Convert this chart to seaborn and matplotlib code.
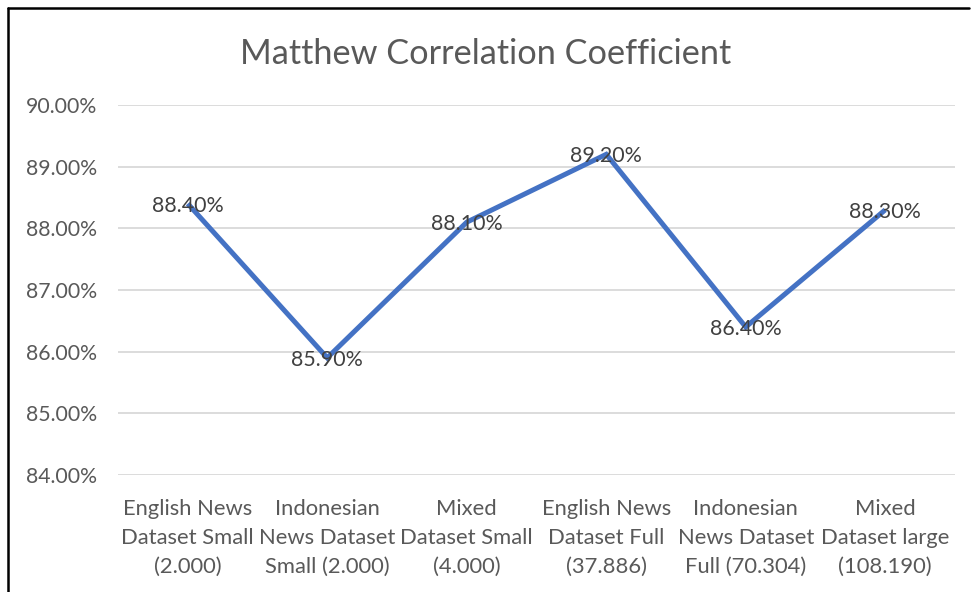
import matplotlib
matplotlib.use("Agg")
import matplotlib.pyplot as plt
import seaborn as sns
import pandas as pd
from matplotlib.lines import Line2D
from matplotlib.ticker import FuncFormatter

categories = [
    "English News\nDataset Small\n(2.000)",
    "Indonesian\nNews Dataset\nSmall (2.000)",
    "Mixed\nDataset Small\n(4.000)",
    "English News\nDataset Full\n(37.886)",
    "Indonesian\nNews Dataset\nFull (70.304)",
    "Mixed\nDataset large\n(108.190)",
]
mcc = [88.40, 85.90, 88.10, 89.20, 86.40, 88.30]
y_ticks = [84, 85, 86, 87, 88, 89, 90]

sns.set_theme(style="white")
plt.rcParams["font.family"] = ["Lato", "DejaVu Sans"]

df = pd.DataFrame({"dataset": categories, "mcc": mcc})

W, H = 972, 592
fig = plt.figure(figsize=(W / 100, H / 100), dpi=100)
ax = fig.add_axes([118 / W, 1 - 475 / H, (955 - 118) / W, (475 - 105) / H])

line_color = "#4472C4"
text_color = "#595959"
label_color = "#404040"

sns.lineplot(data=df, x="dataset", y="mcc", sort=False, ax=ax,
             color=line_color, linewidth=3.6, solid_joinstyle="miter",
             solid_capstyle="butt", zorder=3)

ax.set_xlim(-0.5, len(categories) - 0.5)
ax.set_ylim(84, 90)
ax.set_yticks(y_ticks)
ax.yaxis.set_major_formatter(FuncFormatter(lambda v, _: f"{v:.2f}%"))
ax.grid(axis="y", color="#d9d9d9", linewidth=1.3, zorder=0)
ax.grid(axis="x", visible=False)
for s in ax.spines.values():
    s.set_visible(False)
ax.set_xlabel("")
ax.set_ylabel("")
ax.tick_params(axis="y", length=0, pad=15, labelsize=15.3, labelcolor=text_color)
ax.tick_params(axis="x", length=0, pad=17.5, labelsize=15.8, labelcolor=text_color)
for t in ax.get_xticklabels():
    t.set_linespacing(1.55)
    t.set_horizontalalignment("center")

for i, v in enumerate(mcc):
    ax.text(i, v, f"{v:.2f}%", ha="center", va="center_baseline", fontsize=15.4,
            color=label_color, zorder=4)

fig.text(0.5, 1 - 51 / H, "Matthew Correlation Coefficient", ha="center",
         va="center_baseline", fontsize=24.7, color=text_color)

# outer frame lines on the left and top edges
fig.add_artist(Line2D([7.5 / W, 7.5 / W], [0, 1 - 7.5 / H], color="black",
                      linewidth=1.8, transform=fig.transFigure))
fig.add_artist(Line2D([7.5 / W, 969 / W], [1 - 7.5 / H, 1 - 7.5 / H],
                      color="black", linewidth=1.8, transform=fig.transFigure))

fig.savefig("out.png", dpi=100)
